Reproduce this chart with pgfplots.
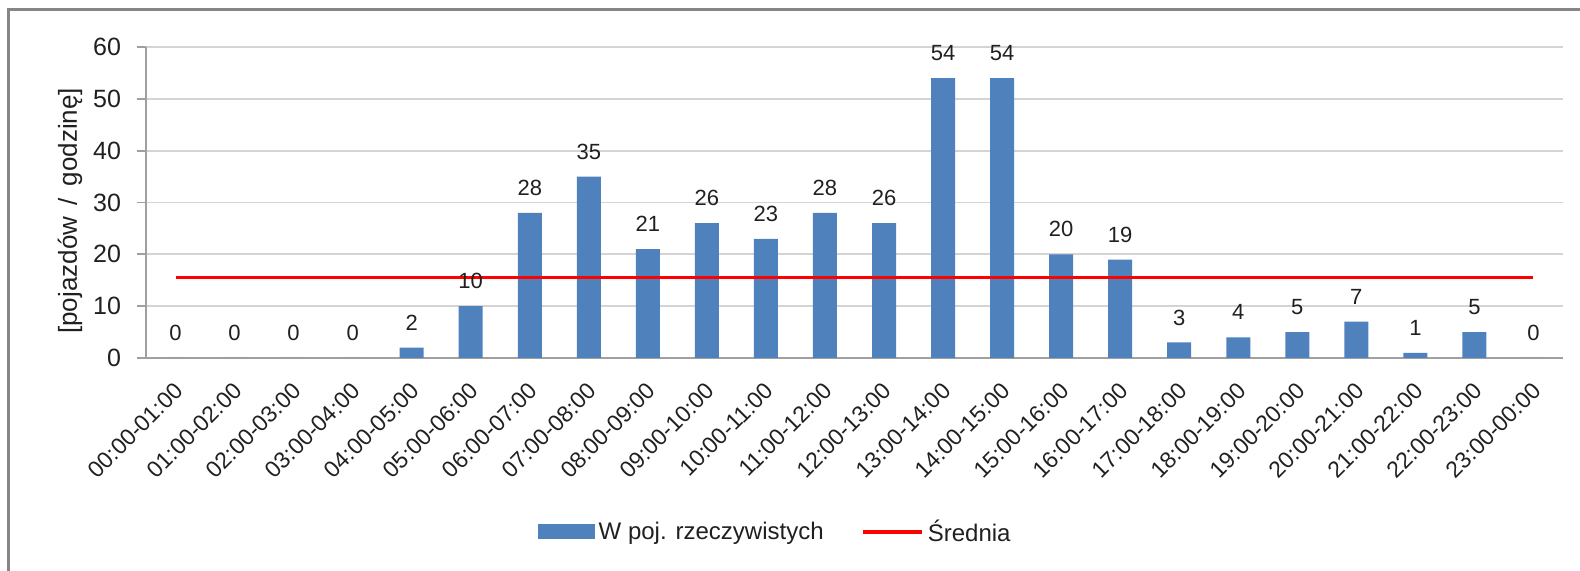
\documentclass[border=0pt]{standalone}
\usepackage{pgfplots}
\pgfplotsset{compat=1.18}
\usepackage{fontspec}
\setmainfont{Liberation Sans}
\definecolor{barblue}{HTML}{4F81BD}
\definecolor{framegray}{HTML}{868686}
\definecolor{axisgray}{HTML}{A0A0A0}
\definecolor{gridgray}{HTML}{D4D4D4}
\definecolor{txt}{HTML}{202020}
\begin{document}
\begin{tikzpicture}[x=1pt,y=1pt]
\useasboundingbox (0,0) rectangle (790,285.5);
\draw[framegray, line width=1.5pt] (4,-2) -- (4,280.5) -- (792,280.5);
\begin{axis}[
  at={(73pt,106.5pt)}, anchor=south west,
  scale only axis, width=708.5pt, height=155.5pt,
  xmin=-0.5, xmax=23.5, ymin=0, ymax=60,
  ytick={0,10,...,60},
  xtick={0,...,23},
  xticklabels={00:00-01:00,01:00-02:00,02:00-03:00,03:00-04:00,04:00-05:00,05:00-06:00,06:00-07:00,07:00-08:00,08:00-09:00,09:00-10:00,10:00-11:00,11:00-12:00,12:00-13:00,13:00-14:00,14:00-15:00,15:00-16:00,16:00-17:00,17:00-18:00,18:00-19:00,19:00-20:00,20:00-21:00,21:00-22:00,22:00-23:00,23:00-00:00},
  axis x line=bottom, axis y line=left,
  axis line style={-, axisgray, line width=0.9pt},
  x axis line style={-}, y axis line style={-},
  ymajorgrids, grid style={gridgray, line width=0.9pt},
  tick align=outside, major tick length=4.5pt,
  xtick style={draw=none},
  ytick style={axisgray, line width=0.9pt},
  /pgf/number format/assume math mode=true,
  yticklabel style={font=\fontsize{12.5}{14}\selectfont, text=txt, xshift=-4.5pt},
  xticklabel style={font=\fontsize{11.5}{13}\selectfont, text=txt, xshift=4.2pt, yshift=-7.4pt, rotate=45, anchor=east},
  ylabel={[pojazdów \,/\, godzinę]},
  ylabel style={at={(axis description cs:0,0.473)}, anchor=center, yshift=38pt, font=\fontsize{13}{15}\selectfont, text=txt},
  legend style={at={(axis description cs:0.4447,-0.5595)}, anchor=center, draw=none, font=\fontsize{12}{14}\selectfont, text=txt,
    /tikz/every even column/.append style={column sep=17pt}},
  legend columns=2,
  clip=false,
]
\addplot[ybar, bar width=12pt, fill=barblue, draw=none,
  nodes near coords, every node near coord/.append style={anchor=center, yshift=12.5pt, font=\fontsize{11}{12}\selectfont, text=txt},
  legend image code/.code={\fill[barblue] (0pt,-3.75pt) rectangle (28.5pt,3.75pt);}]
coordinates {(0,0) (1,0) (2,0) (3,0) (4,2) (5,10) (6,28) (7,35) (8,21) (9,26) (10,23) (11,28) (12,26) (13,54) (14,54) (15,20) (16,19) (17,3) (18,4) (19,5) (20,7) (21,1) (22,5) (23,0)};
\addlegendentry{W poj. rzeczywistych}
\addplot[red, line width=1.6pt, mark=none,
  legend image code/.code={\draw[red, line width=1.6pt] (0pt,0pt) -- (29.5pt,0pt);}]
coordinates {(0,15.6) (23,15.6)};
\addlegendentry{Średnia}
\end{axis}
\end{tikzpicture}
\end{document}
